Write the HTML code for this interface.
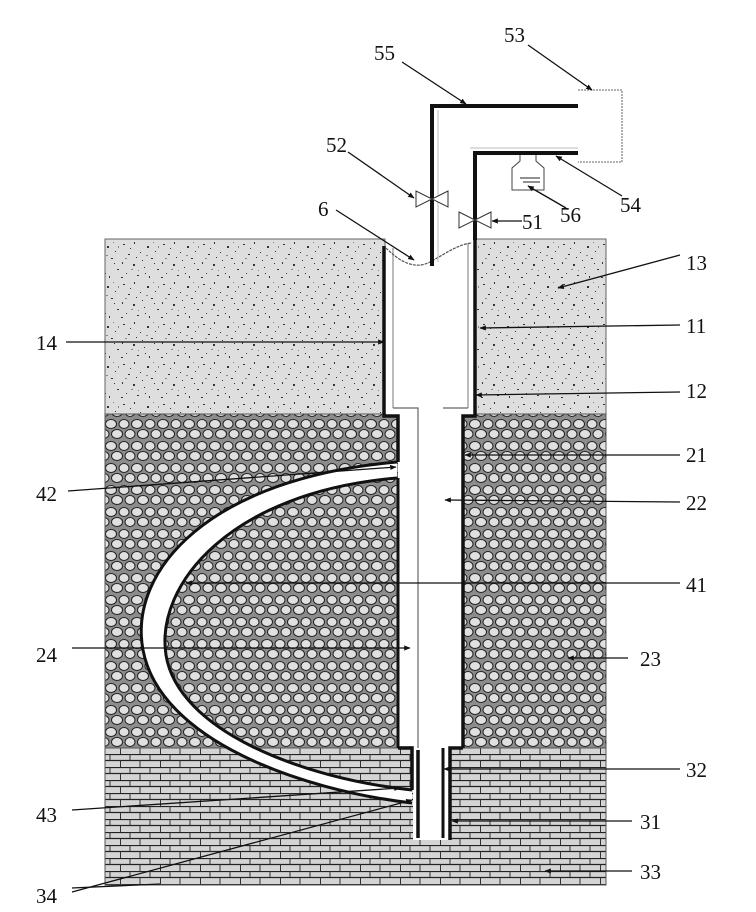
<!DOCTYPE html>
<html><head><meta charset="utf-8"><style>
html,body{margin:0;padding:0;background:#fff;}
svg{display:block;}
text{font-family:"Liberation Serif",serif;font-size:21px;fill:#111;}
</style></head><body>
<svg width="756" height="912" viewBox="0 0 756 912" xmlns="http://www.w3.org/2000/svg">
<defs>
<marker id="ar" viewBox="0 0 10 10" refX="9" refY="5" markerWidth="5" markerHeight="5" orient="auto"><path d="M0,1 L10,5 L0,9 Z" fill="#111"/></marker>
<pattern id="sand" width="40" height="40" patternUnits="userSpaceOnUse">
<rect width="40" height="40" fill="#dedede"/>
<g fill="#333">
<rect x="3" y="4" width="2" height="1"/><rect x="14" y="2" width="1" height="2"/><rect x="27" y="6" width="2" height="2"/><rect x="35" y="11" width="1" height="1"/>
<rect x="8" y="14" width="2" height="1"/><rect x="20" y="12" width="1" height="1"/><rect x="31" y="18" width="2" height="1"/><rect x="2" y="22" width="1" height="2"/>
<rect x="13" y="24" width="2" height="2"/><rect x="24" y="27" width="1" height="1"/><rect x="37" y="29" width="2" height="1"/><rect x="6" y="33" width="1" height="1"/>
<rect x="17" y="35" width="2" height="1"/><rect x="29" y="36" width="1" height="2"/><rect x="10" y="8" width="1" height="1"/><rect x="22" y="20" width="1" height="1"/>
<rect x="34" y="23" width="1" height="1"/><rect x="16" y="17" width="1" height="1"/><rect x="1" y="37" width="2" height="1"/><rect x="25" y="33" width="1" height="1"/>
</g>
<g fill="#888"><rect x="5" y="18" width="2" height="1"/><rect x="33" y="2" width="1" height="1"/><rect x="18" y="30" width="1" height="1"/><rect x="26" y="15" width="2" height="1"/><rect x="11" y="29" width="2" height="1"/><rect x="38" y="6" width="1" height="2"/></g>
</pattern>
<pattern id="cobble" width="26" height="22" patternUnits="userSpaceOnUse">
<rect width="26" height="22" fill="#8c8c8c"/>
<ellipse cx="7" cy="6" rx="5.5" ry="4.5" fill="#e0e0e0" stroke="#222" stroke-width="1"/>
<ellipse cx="20" cy="6" rx="5" ry="4.5" fill="#e0e0e0" stroke="#222" stroke-width="1"/>
<ellipse cx="13" cy="16" rx="5.5" ry="4.5" fill="#e0e0e0" stroke="#222" stroke-width="1"/>
<ellipse cx="0" cy="16" rx="5" ry="4.5" fill="#e0e0e0" stroke="#222" stroke-width="1"/>
<ellipse cx="26" cy="16" rx="5" ry="4.5" fill="#e0e0e0" stroke="#222" stroke-width="1"/>
</pattern>
<pattern id="brick" width="40" height="13" patternUnits="userSpaceOnUse">
<rect width="40" height="13" fill="#d4d4d4"/>
<line x1="0" y1="0.5" x2="40" y2="0.5" stroke="#222" stroke-width="1.2"/>
<line x1="0" y1="6.5" x2="40" y2="6.5" stroke="#222" stroke-width="1.2"/>
<line x1="10" y1="0" x2="10" y2="6.5" stroke="#333"/>
<line x1="30" y1="0" x2="30" y2="6.5" stroke="#333"/>
<line x1="20" y1="6.5" x2="20" y2="13" stroke="#333"/>
<line x1="0.5" y1="6.5" x2="0.5" y2="13" stroke="#333"/>
</pattern>
</defs>

<rect x="105" y="239" width="280" height="175" fill="url(#sand)" stroke="#666" stroke-width="1"/>
<rect x="475" y="239" width="131" height="175" fill="url(#sand)" stroke="#666" stroke-width="1"/>
<rect x="105" y="414" width="293" height="334" fill="url(#cobble)" stroke="#555" stroke-width="1"/>
<rect x="463" y="414" width="143" height="334" fill="url(#cobble)" stroke="#555" stroke-width="1"/>
<rect x="105" y="748" width="501" height="137" fill="url(#brick)" stroke="#555" stroke-width="1"/>
<rect x="386" y="239" width="88" height="176" fill="#fff"/>
<rect x="398" y="414" width="65" height="334" fill="#fff"/>
<rect x="413" y="748" width="37" height="92" fill="#fff"/>
<rect x="398" y="746" width="15" height="34" fill="url(#brick)"/>

<path d="M397,462 C210,478 128,570 143,650 C160,740 300,790 412,803 L412,790 C300,778 178,730 166,655 C155,585 230,492 397,478 Z" fill="#fff" stroke="none"/>
<path d="M397,462 C210,478 128,570 143,650 C160,740 300,790 412,803" fill="none" stroke="#111" stroke-width="3"/>
<path d="M397,478 C230,492 155,585 166,655 C178,730 300,778 412,790" fill="none" stroke="#111" stroke-width="3"/>

<g stroke="#111" fill="none">
<polyline points="384,246 384,416 398,416 398,462" stroke-width="3.5"/>
<line x1="398" y1="478" x2="398" y2="748" stroke-width="3"/>
<polyline points="398,748 412,748 412,790" stroke-width="3.5"/>
<line x1="418" y1="750" x2="418" y2="838" stroke-width="3.5"/>
<line x1="443" y1="748" x2="443" y2="838" stroke-width="3"/>
<polyline points="463,748 450,748 450,840" stroke-width="3.5"/>
<polyline points="475,239 475,416 463,416 463,748" stroke-width="3.5"/>
<line x1="393" y1="248" x2="393" y2="408" stroke-width="1" stroke="#777"/>
<line x1="468" y1="243" x2="468" y2="408" stroke-width="1" stroke="#777"/>
<polyline points="393,408 418,408 418,748" stroke-width="1.2" stroke="#666"/>
<polyline points="468,408 443,408" stroke-width="1.2" stroke="#666"/>
</g>

<path d="M386,248 C400,262 415,270 430,262 C445,254 458,244 472,243" fill="none" stroke="#555" stroke-width="1.2" stroke-dasharray="3,1"/>

<g stroke="#111" fill="none" stroke-width="4">
<polyline points="578,106 432,106 432,266"/>
<polyline points="578,153 475,153 475,240"/>
</g>
<line x1="438" y1="110" x2="438" y2="262" stroke="#bbb" stroke-width="1"/>
<line x1="470" y1="148" x2="578" y2="148" stroke="#bbb" stroke-width="1"/>
<polyline points="578,90 622,90 622,162 578,162" fill="none" stroke="#666" stroke-width="1" stroke-dasharray="2,1"/>
<g fill="#fff" stroke="#333" stroke-width="1">
<polygon points="416,191 432,199 416,207"/><polygon points="448,191 432,199 448,207"/>
<polygon points="459,212 475,220 459,228"/><polygon points="491,212 475,220 491,228"/>
</g>
<path d="M520,155 L520,161 L512,168 L512,190 L544,190 L544,168 L536,161 L536,155" fill="none" stroke="#444" stroke-width="1"/>
<line x1="520" y1="178" x2="540" y2="178" stroke="#222" stroke-width="1"/>
<line x1="523" y1="182" x2="540" y2="182" stroke="#222" stroke-width="1"/>

<g stroke="#111" stroke-width="1.3" fill="none" marker-end="url(#ar)">
<line x1="528" y1="45" x2="592" y2="90"/>
<line x1="402" y1="62" x2="466" y2="104"/>
<line x1="348" y1="152" x2="414" y2="198"/>
<line x1="622" y1="196" x2="556" y2="156"/>
<line x1="566" y1="208" x2="528" y2="186"/>
<line x1="522" y1="221" x2="492" y2="221"/>
<line x1="336" y1="210" x2="414" y2="260"/>
<line x1="680" y1="255" x2="558" y2="288"/>
<line x1="680" y1="325" x2="480" y2="328"/>
<line x1="680" y1="392" x2="476" y2="395"/>
<line x1="66" y1="342" x2="384" y2="342"/>
<line x1="680" y1="455" x2="465" y2="455"/>
<line x1="68" y1="491" x2="396" y2="467"/>
<line x1="680" y1="502" x2="445" y2="500"/>
<line x1="680" y1="583" x2="186" y2="583"/>
<line x1="72" y1="648" x2="410" y2="648"/>
<line x1="628" y1="658" x2="568" y2="658"/>
<line x1="680" y1="769" x2="444" y2="769"/>
<line x1="72" y1="810" x2="400" y2="788"/>
<line x1="632" y1="821" x2="452" y2="821"/>
<line x1="72" y1="892" x2="412" y2="800"/>
<line x1="632" y1="871" x2="545" y2="871"/>
</g>
<line x1="72" y1="888" x2="160" y2="884" stroke="#111" stroke-width="1.3"/>

<text x="504" y="42">53</text>
<text x="374" y="60">55</text>
<text x="326" y="152">52</text>
<text x="620" y="212">54</text>
<text x="560" y="222">56</text>
<text x="522" y="229">51</text>
<text x="318" y="216">6</text>
<text x="686" y="270">13</text>
<text x="686" y="333">11</text>
<text x="686" y="398">12</text>
<text x="36" y="350">14</text>
<text x="686" y="462">21</text>
<text x="36" y="501">42</text>
<text x="686" y="510">22</text>
<text x="686" y="592">41</text>
<text x="36" y="662">24</text>
<text x="640" y="666">23</text>
<text x="686" y="777">32</text>
<text x="36" y="822">43</text>
<text x="640" y="829">31</text>
<text x="36" y="903">34</text>
<text x="640" y="879">33</text>
</svg>
</body></html>
